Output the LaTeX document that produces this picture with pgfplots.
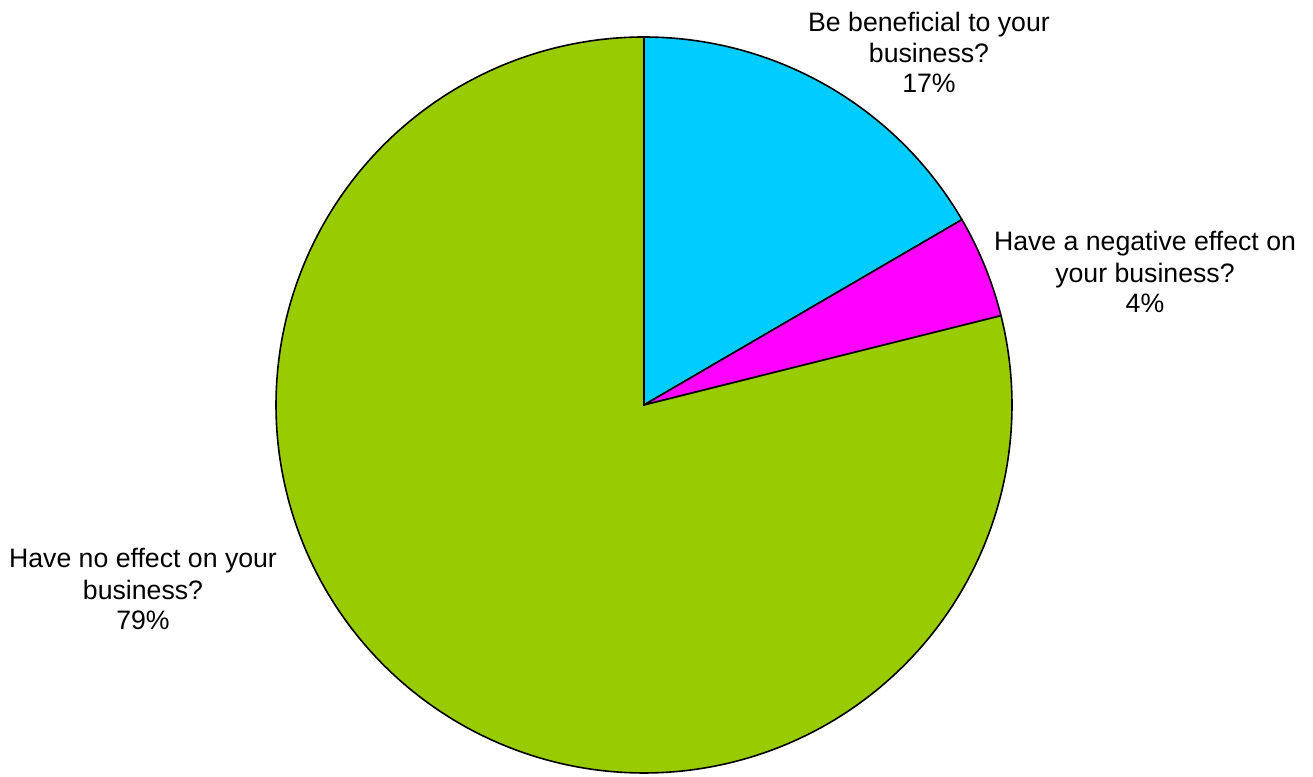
\documentclass[border=0pt]{standalone}
\usepackage{pgfplots}
\pgfplotsset{compat=1.18}
\usepackage{fontspec}
\setmainfont{Liberation Sans}
\definecolor{sliceA}{HTML}{00CCFF}
\definecolor{sliceB}{HTML}{FF00FF}
\definecolor{sliceC}{HTML}{99CC00}
% pie values (percent)
\def\vA{16.6}
\def\vB{4.5}
\def\vC{78.9}
\begin{document}
\begin{tikzpicture}
\pgfmathsetmacro{\aStart}{90}
\pgfmathsetmacro{\aA}{90-\vA*3.6}
\pgfmathsetmacro{\aB}{\aA-\vB*3.6}
\pgfmathsetmacro{\aC}{\aB-\vC*3.6}
\begin{axis}[
  width=984.75pt, height=582.75pt, scale only axis,
  xmin=0, xmax=1313, ymin=0, ymax=777,
  hide axis, clip=false,
]
\addplot[draw=black, line width=1.2pt, fill=sliceA, domain=\aA:\aStart, samples=80, smooth]
  ({644+368*cos(x)},{372+368*sin(x)}) -- (axis cs:644,372) -- cycle;
\addplot[draw=black, line width=1.2pt, fill=sliceB, domain=\aB:\aA, samples=30, smooth]
  ({644+368*cos(x)},{372+368*sin(x)}) -- (axis cs:644,372) -- cycle;
\addplot[draw=black, line width=1.2pt, fill=sliceC, domain=\aC:\aB, samples=300, smooth]
  ({644+368*cos(x)},{372+368*sin(x)}) -- (axis cs:644,372) -- cycle;
\path (axis cs:0,0) rectangle (axis cs:1313,777);
\begin{scope}[every node/.style={font=\fontsize{20}{24}\selectfont, anchor=base, inner sep=0pt}]
\node at (axis cs:929,745) {Be beneficial to your};
\node at (axis cs:929,714) {business?};
\node at (axis cs:929,684) {17\%};
\node at (axis cs:1145,526) {Have a negative effect on};
\node at (axis cs:1145,494) {your business?};
\node at (axis cs:1145,464) {4\%};
\node at (axis cs:143,209) {Have no effect on your};
\node at (axis cs:143,177) {business?};
\node at (axis cs:143,147) {79\%};
\end{scope}
\end{axis}
\end{tikzpicture}
\end{document}
